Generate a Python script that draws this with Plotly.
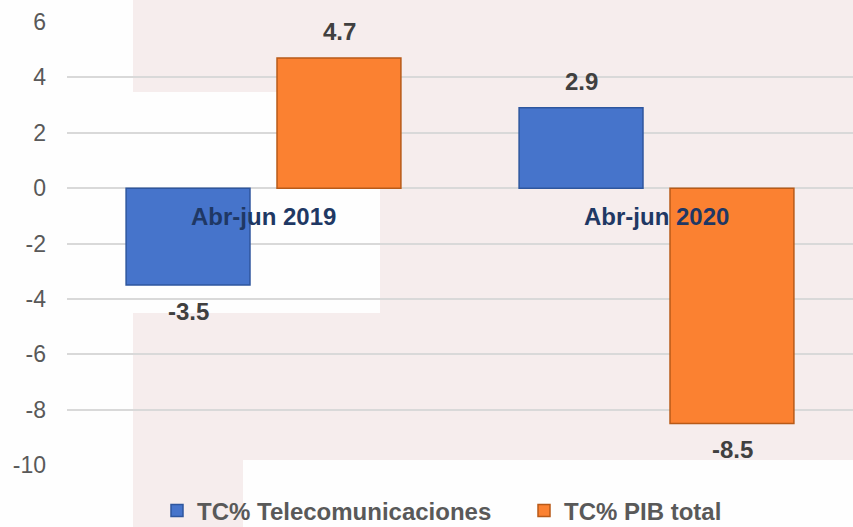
import plotly.graph_objects as go

categories = ["Abr-jun 2019", "Abr-jun 2020"]
telecom = [-3.5, 2.9]
pib = [4.7, -8.5]
series_names = ["TC% Telecomunicaciones", "TC% PIB total"]
y_ticks = [-10, -8, -6, -4, -2, 0, 2, 4, 6]

BLUE = "#4674CB"
BLUE_LINE = "#2E569E"
ORANGE = "#FB8131"
ORANGE_LINE = "#B85A18"
PINK = "#F6EDED"

fig = go.Figure()
fig.add_trace(go.Bar(x=categories, y=telecom, name=series_names[0],
                     marker=dict(color=BLUE, line=dict(color=BLUE_LINE, width=1.5))))
fig.add_trace(go.Bar(x=categories, y=pib, name=series_names[1],
                     marker=dict(color=ORANGE, line=dict(color=ORANGE_LINE, width=1.5))))

# background decoration (paper coords)
W, H = 853, 527
def rect(x0, y0, x1, y1):
    return dict(type="rect", xref="paper", yref="paper", layer="below",
                x0=(x0 - 67) / (W - 67), x1=(x1 - 67) / (W - 67),
                y0=(465 - y1) / 443, y1=(465 - y0) / 443,
                fillcolor=PINK, line=dict(width=0))
shapes = [rect(133, 0, 853, 92), rect(380, 0, 853, 460),
          rect(133, 313, 853, 460), rect(133, 460, 243, 527)]

annotations = []
for c in categories:
    annotations.append(dict(x=c, y=0, xref="x", yref="y", text=f"<b>{c}</b>",
                            showarrow=False, yshift=-28, yanchor="middle",
                            font=dict(size=24, color="#1F3864", family="Liberation Sans, Arial")))
half = 75.5
for vals, dx in ((telecom, -half), (pib, half)):
    for c, v in zip(categories, vals):
        annotations.append(dict(x=c, y=v, xref="x", yref="y", text=f"<b>{v}</b>",
                                showarrow=False, xshift=dx, yshift=26 if v >= 0 else -26,
                                yanchor="middle",
                                font=dict(size=24, color="#404040", family="Liberation Sans, Arial")))

fig.update_layout(
    width=W, height=H,
    margin=dict(l=67, r=0, t=22, b=62, autoexpand=False),
    paper_bgcolor="#FEFEFE", plot_bgcolor="rgba(0,0,0,0)",
    barmode="group", bargap=0.232, bargroupgap=0.179,
    font=dict(family="Liberation Sans, Arial", color="#595959"),
    showlegend=True,
    legend=dict(orientation="h", x=(157 - 67) / 786, xanchor="left", y=-(511 - 465) / 443,
                yanchor="middle", entrywidth=322, entrywidthmode="pixels",
                font=dict(size=24, color="#595959"), itemwidth=30,
                bgcolor="rgba(0,0,0,0)"),
    shapes=shapes, annotations=annotations,
)
fig.update_xaxes(showticklabels=False, showgrid=False, zeroline=False, showline=False)
fig.update_yaxes(range=[-10, 6], tickvals=y_ticks, ticktext=[str(t) for t in y_ticks],
                 showgrid=True, gridcolor="#D9D9D9", gridwidth=1.5,
                 zeroline=True, zerolinecolor="#D9D9D9", zerolinewidth=1.5,
                 showline=False, ticks="", ticklabelstandoff=20,
                 tickfont=dict(size=23, color="#595959"))

# bold legend labels
for tr in fig.data:
    tr.name = f"<b>{tr.name}</b>"

fig.write_html("out.html", config={"displayModeBar": False},
               post_script="document.body.style.margin='0';document.body.style.padding='0';")
